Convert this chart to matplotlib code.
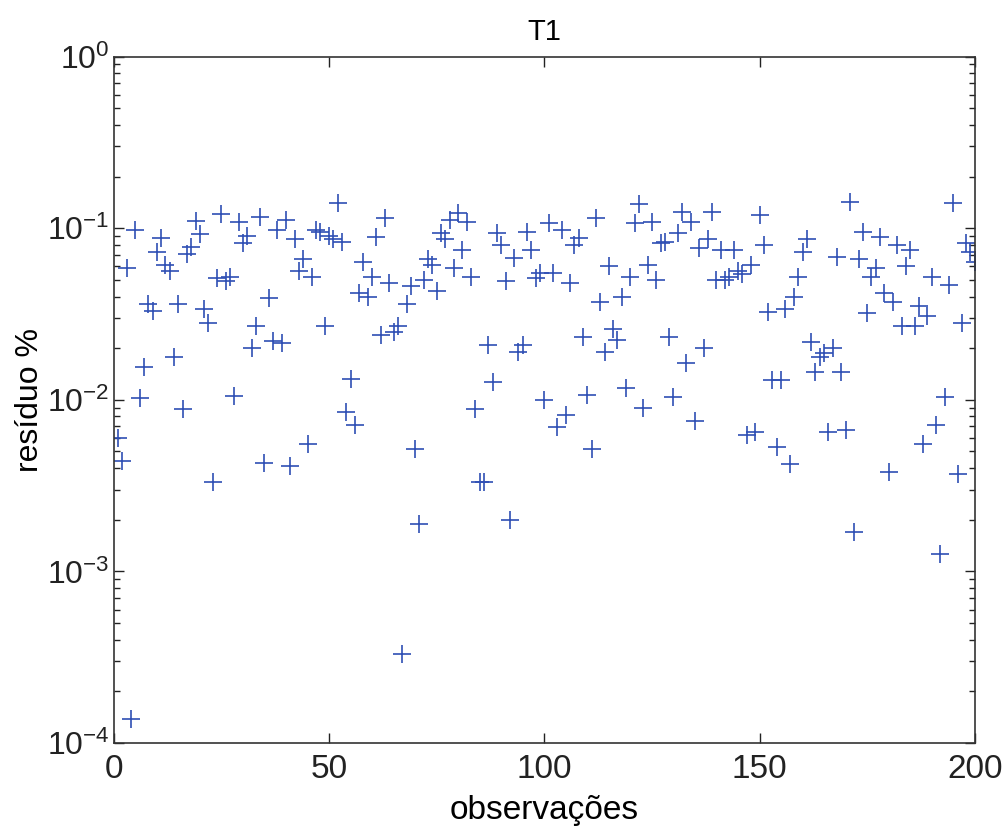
import numpy as np
import matplotlib
matplotlib.use("Agg")
import matplotlib.pyplot as plt
from matplotlib.ticker import LogLocator, NullFormatter

plt.rcParams["font.family"] = ["Liberation Sans", "DejaVu Sans"]
plt.rcParams["mathtext.default"] = "regular"
plt.rcParams["axes.unicode_minus"] = False

# residual per observation, in order 1..200
residuo = [
    0.0060, 0.0044, 0.059, 0.000138, 0.098, 0.0103, 0.0156, 0.036, 0.033, 0.073,
    0.088, 0.061, 0.056, 0.0177, 0.036, 0.0089, 0.071, 0.078, 0.110, 0.093,
    0.034, 0.028, 0.0033, 0.051, 0.121, 0.049, 0.052, 0.0105, 0.109, 0.082,
    0.090, 0.020, 0.027, 0.116,
    0.0043, 0.039, 0.022, 0.098, 0.0215, 0.112, 0.0041, 0.086, 0.056, 0.066,
    0.0055, 0.052, 0.098, 0.095, 0.027, 0.090, 0.086, 0.141, 0.083, 0.0085,
    0.0133, 0.0071, 0.042, 0.064, 0.040, 0.052, 0.089, 0.024, 0.115, 0.048,
    0.025, 0.027,
    0.00033, 0.036, 0.046, 0.0052, 0.0019, 0.050, 0.066, 0.061, 0.043, 0.094,
    0.086, 0.112, 0.059, 0.123, 0.075, 0.109, 0.052, 0.0089, 0.0033, 0.0033,
    0.0209, 0.0127, 0.094, 0.080, 0.049, 0.0020, 0.067, 0.0191, 0.0209, 0.095,
    0.075, 0.051, 0.055, 0.0100,
    0.108, 0.055, 0.0069, 0.098, 0.0082, 0.048, 0.080, 0.088, 0.0233, 0.0107,
    0.0052, 0.115, 0.037, 0.0190, 0.060, 0.026, 0.0223, 0.040, 0.0117, 0.052,
    0.107, 0.139, 0.0090, 0.061, 0.109, 0.050, 0.082, 0.083, 0.0232, 0.0104,
    0.094,
    0.125, 0.0164, 0.109, 0.0075, 0.077, 0.020, 0.086, 0.125, 0.050, 0.075,
    0.050, 0.052, 0.075, 0.056, 0.054, 0.0062, 0.061, 0.0065, 0.120, 0.080,
    0.0325, 0.0131, 0.0053, 0.0131, 0.034, 0.0042, 0.040, 0.052, 0.073, 0.086,
    0.0218, 0.0146, 0.0177,
    0.0187, 0.0065, 0.020, 0.068, 0.0145, 0.0067, 0.143, 0.0017, 0.066, 0.095,
    0.032, 0.052, 0.059, 0.089, 0.042, 0.0038, 0.037, 0.080, 0.027, 0.060,
    0.075, 0.027, 0.035, 0.0055, 0.031, 0.052, 0.0071, 0.00126, 0.0104, 0.047,
    0.141, 0.0037, 0.028, 0.082, 0.073, 0.064,
]
obs = np.arange(1, len(residuo) + 1)

fig = plt.figure(figsize=(10.07, 8.33), dpi=100)
ax = fig.add_axes([0.113, 0.108, 0.855, 0.824])

ax.semilogy(obs, residuo, "+", color="#2f4fb4", markersize=13, markeredgewidth=1.2)

ax.set_xlim(0, 200)
ax.set_ylim(1e-4, 1e0)
ax.set_xticks([0, 50, 100, 150, 200])
ax.yaxis.set_major_locator(LogLocator(base=10, numticks=10))
ax.yaxis.set_minor_locator(LogLocator(base=10, subs=np.arange(2, 10), numticks=20))
ax.yaxis.set_minor_formatter(NullFormatter())

ax.tick_params(which="both", direction="in", top=True, right=True,
               colors="#222222", width=1.0)
ax.tick_params(which="major", length=7)
ax.tick_params(which="minor", length=4)
ax.tick_params(axis="x", labelsize=24, pad=8)
ax.tick_params(axis="y", labelsize=23, pad=3)
for s in ax.spines.values():
    s.set_color("#333333")
    s.set_linewidth(1.2)

ax.set_title("T1", fontsize=21, pad=12)
ax.set_xlabel("observações", fontsize=24, labelpad=7)
ax.set_ylabel("resíduo %", fontsize=23)
ax.yaxis.set_label_coords(-0.08, 0.5)

fig.savefig("out.png", dpi=100)
